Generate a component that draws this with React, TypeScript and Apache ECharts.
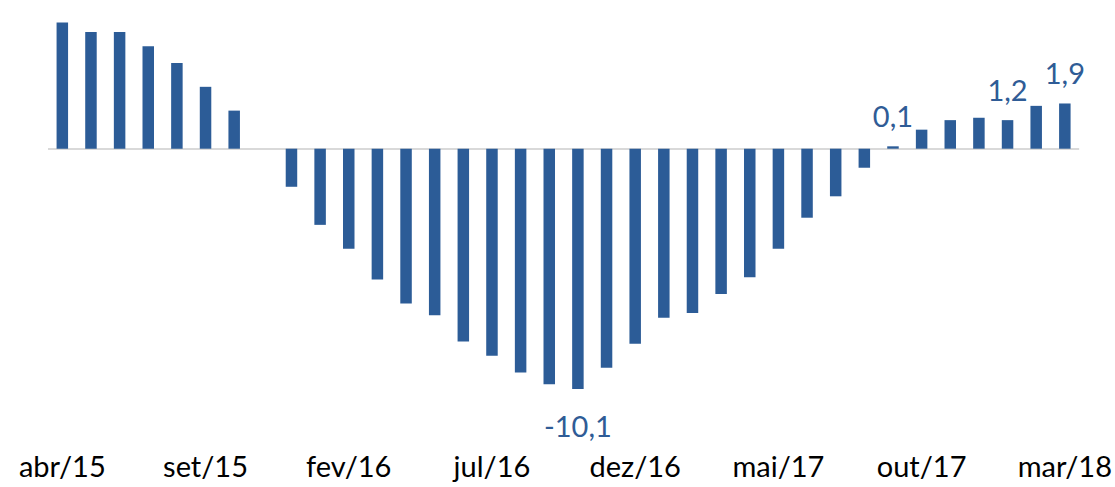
import React, { useEffect, useRef } from "react";
import * as echarts from "echarts";

const months = ["jan", "fev", "mar", "abr", "mai", "jun", "jul", "ago", "set", "out", "nov", "dez"];
const categories: string[] = [];
for (let i = 0; i < 36; i++) {
  const m = (3 + i) % 12;
  const y = 15 + Math.floor((3 + i) / 12);
  categories.push(`${months[m]}/${y}`);
}

const values = [
  5.3, 4.9, 4.9, 4.3, 3.6, 2.6, 1.6, 0.0, -1.6,
  -3.2, -4.2, -5.5, -6.5, -7.0, -8.1, -8.7, -9.4, -9.9, -10.1, -9.2, -8.2,
  -7.1, -6.9, -6.1, -5.4, -4.2, -2.9, -2.0, -0.8, 0.1, 0.8, 1.2, 1.3,
  1.2, 1.8, 1.9,
];

const labelledCategories = ["out/16", "set/17", "jan/18", "mar/18"];

const BLUE = "#2C5C97";
const LABEL_BLUE = "#2F5C96";
const FONT = "Lato";

export default function App() {
  const ref = useRef<HTMLDivElement>(null);
  useEffect(() => {
    if (!ref.current) return;
    const chart = echarts.init(ref.current, undefined, { renderer: "svg" });
    const data = values.map((v, i) => {
      const show = labelledCategories.includes(categories[i]);
      return {
        value: v,
        label: show
          ? {
              show: true,
              position: v < 0 ? "bottom" : "top",
              distance: v < 0 ? 22 : 16,
              formatter: (p: any) => String(p.value.toFixed(1)).replace(".", ","),
              color: LABEL_BLUE,
              fontFamily: FONT,
              fontSize: 29,
            }
          : { show: false },
      };
    });
    chart.setOption({
      animation: false,
      grid: { left: 48, right: 34.5, top: 5.9, bottom: 76.5, containLabel: false },
      xAxis: {
        type: "category",
        data: categories,
        axisLine: { show: false },
        axisTick: { show: false },
        axisLabel: {
          interval: 4,
          margin: 40,
          color: "#000",
          fontFamily: FONT,
          fontSize: 29,
        },
      },
      yAxis: {
        type: "value",
        min: -11,
        max: 6,
        show: false,
        splitLine: { show: false },
      },
      series: [
        {
          type: "bar",
          data,
          barWidth: 11.5,
          itemStyle: { color: BLUE },
          markLine: {
            silent: true,
            symbol: "none",
            label: { show: false },
            lineStyle: { color: "#D9D9D9", width: 2, type: "solid" },
            data: [{ yAxis: 0 }],
            z: 1,
          },
        },
      ],
    });
    return () => chart.dispose();
  }, []);
  return (
    <div
      ref={ref}
      style={{ position: "fixed", left: 0, top: 0, width: 1115, height: 487, background: "#fff" }}
    />
  );
}
